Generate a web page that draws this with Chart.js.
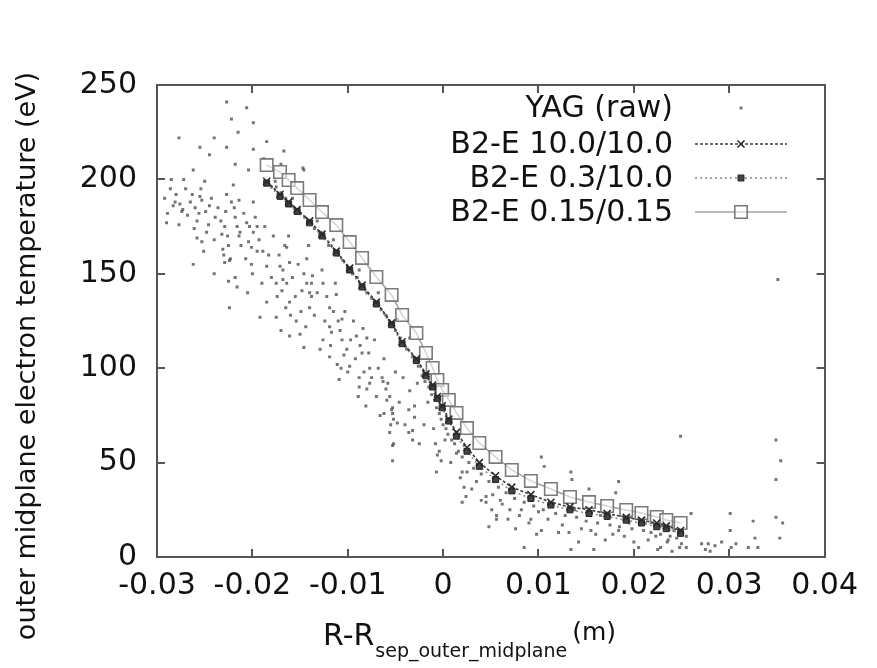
<!DOCTYPE html>
<html><head><meta charset="utf-8">
<script src="https://cdn.jsdelivr.net/npm/chart.js@4.4.1/dist/chart.umd.min.js"></script>
<style>html,body{margin:0;padding:0;background:#fff;}canvas{display:block;}</style>
</head><body>
<canvas id="c" width="877" height="668"></canvas>
<script>
const xTickValues = [-0.03,-0.02,-0.01,0,0.01,0.02,0.03,0.04];
const xTickLabels = ['-0.03','-0.02','-0.01','0','0.01','0.02','0.03','0.04'];
const yTickValues = [0,50,100,150,200,250];
const yTickLabels = ['0','50','100','150','200','250'];
const seriesNames = ['YAG (raw)','B2-E 10.0/10.0','B2-E 0.3/10.0','B2-E 0.15/0.15'];
const yTitle = 'outer midplane electron temperature (eV)';
const xTitleMain = 'R-R', xTitleSub = 'sep_outer_midplane', xTitleUnit = '(m)';

// B2-E radial grid (m)
const b2eR = [-0.0185,-0.0171,-0.0162,-0.0153,-0.0140,-0.0127,-0.0112,-0.0098,-0.0085,-0.0070,-0.0054,-0.0043,-0.0028,-0.0018,-0.0011,-0.0006,-0.0001,0.0006,0.0014,0.0025,0.0038,0.0055,0.0072,0.0092,0.0113,0.0133,0.0153,0.0172,0.0192,0.0208,0.0224,0.0234,0.0249];
const b2e10 = [199,192,188,184,178,171,162,153,144,135,124,114,105,97,91,85,80,73,66,58,50,43,37,33,29,26.5,25,23,21,19.5,18,16.5,14];
const b2e03 = [198,191,187,183,177,170,161,152,143,134,123,113,104,96,90,84,79,72,64,56,48,41,35,31,27.5,25,23,21.5,19.5,18,16,15,12.5];
const b2e015 = [207.6,203.9,199.7,195.4,189.1,182.7,175.8,166.8,158.4,148.3,138.8,128.2,118.6,108.1,100.1,93.8,88.5,83.2,76.3,68.3,60.4,53.0,46.1,40.3,36.0,31.8,29.1,27.0,24.9,23.3,21.2,19.6,18.0];

// YAG raw measurements
const yagR = [-0.0292,-0.0289,-0.0286,-0.0290,-0.0227,-0.0206,-0.0222,-0.0199,-0.0277,-0.0255,-0.0227,-0.0199,-0.0245,-0.0218,-0.0204,-0.0272,-0.0250,-0.0220,-0.0281,-0.0265,-0.0253,-0.0245,-0.0227,-0.0214,-0.0199,-0.0274,-0.0256,-0.0239,-0.0218,-0.0206,-0.0277,-0.0261,-0.0248,-0.0232,-0.0214,-0.0199,-0.0253,-0.0225,-0.0204,-0.0251,-0.0230,-0.0195,-0.0166,-0.0188,-0.0146,-0.0167,-0.0273,-0.0283,-0.0255,-0.0258,-0.0222,-0.0229,-0.0201,-0.0213,-0.0195,-0.0224,-0.0218,-0.0189,-0.0185,-0.0164,-0.0161,-0.0168,-0.0143,-0.0137,-0.0140,-0.0140,-0.0119,-0.0119,-0.0106,-0.0106,-0.0091,-0.0085,-0.0077,-0.0064,-0.0060,-0.0224,-0.0192,-0.0175,-0.0161,-0.0148,-0.0175,-0.0126,-0.0112,-0.0126,-0.0101,-0.0119,-0.0109,-0.0080,-0.0098,-0.0147,
-0.0229,-0.0225,-0.0216,-0.0201,-0.0171,-0.0169,-0.0164,-0.0143,-0.0138,-0.0161,-0.0146,-0.0154,-0.0117,-0.0110,-0.0104,-0.0107,-0.0084,-0.0088,-0.0063,-0.0056,-0.0054,-0.0052,-0.0056,-0.0052,-0.0088,-0.0080,-0.0077,-0.0205,-0.0185,-0.0170,-0.0160,-0.0150,-0.0240,-0.0262,
-0.0053,-0.0053,-0.0036,-0.0032,-0.0025,-0.0048,-0.0004,-0.0002,-0.0007,0.0020,0.0022,0.0020,0.0030,0.0048,0.0056,0.0045,-0.0059,-0.0062,-0.0053,-0.0036,-0.0030,-0.0053,-0.0032,-0.0006,0.0024,0.0045,0.0051,0.0056,0.0076,0.0085,0.0103,0.0106,0.0103,0.0121,0.0132,0.0134,0.0135,0.0134,0.0153,0.0155,0.0158,0.0184,0.0181,0.0184,0.0197,0.0223,0.0228,0.0236,0.0249,0.0250,0.0255,0.0260,0.0271,0.0278,0.0292,0.0301,0.0301,0.0302,0.0307,0.0320,0.0325,0.0327,0.0330,0.0349,0.0349,0.0354,0.0349,0.0356,0.0353,0.0351,0.0280,0.0285,0.0275,
-0.0180,-0.0176,-0.0170,-0.0165,-0.0160,-0.0150,-0.0145,-0.0135,-0.0128,-0.0120,-0.0110,-0.0105,-0.0095,-0.0090,-0.0080,-0.0075,-0.0065,-0.0060,-0.0050,-0.0045,-0.0038,-0.0032,-0.0026,-0.0022,-0.0019,-0.0015,-0.0012,-0.0009,-0.0007,-0.0004,-0.0002,0.0000,0.0003,0.0005,0.0009,0.0012,0.0016,0.0020,0.0027,0.0032,0.0040,0.0048,0.0058,0.0066,0.0075,0.0085,0.0095,0.0105,0.0118,0.0128,0.0140,0.0150,0.0162,0.0175,0.0185,0.0198,0.0210,0.0218,0.0228,0.0238,0.0245,0.0250,0.0242,0.0235,0.0215,
0.0060,0.0070,0.0080,0.0090,0.0100,0.0110,0.0125,0.0145,0.0160,0.0170,0.0190,0.0200,0.0205,0.0225,0.0240,0.0255,
-0.0285,-0.0280,-0.0276,-0.0270,-0.0268,-0.0263,-0.0260,-0.0258,-0.0254,-0.0249,-0.0246,-0.0243,-0.0240,-0.0236,-0.0233,-0.0231,-0.0228,-0.0226,-0.0223,-0.0219,-0.0216,-0.0212,-0.0209,-0.0207,-0.0203,-0.0200,-0.0197,-0.0193,-0.0190,-0.0187,
-0.0183,-0.0180,-0.0178,-0.0174,-0.0172,-0.0168,-0.0165,-0.0162,-0.0158,-0.0155,-0.0152,-0.0149,-0.0146,-0.0144,-0.0141,-0.0138,-0.0135,-0.0132,-0.0129,-0.0127,-0.0124,-0.0122,-0.0118,-0.0115,-0.0113,-0.0111,-0.0108,-0.0103,-0.0100,-0.0097,-0.0094,-0.0092,-0.0089,-0.0087,-0.0083,-0.0081,-0.0078,-0.0075,-0.0072,-0.0070,-0.0068,-0.0066,-0.0062,-0.0058,-0.0055,-0.0050,-0.0046,-0.0042,-0.0040,-0.0035,-0.0030,-0.0027,-0.0020,-0.0016,-0.0010,-0.0008,0.0002,0.0008,0.0014,0.0018,0.0025,0.0035,0.0040,0.0052,0.0062,0.0068,0.0082,0.0092,0.0098,0.0115,0.0138,0.0142,0.0165,0.0178,0.0195,0.0212,0.0232,0.0248,
-0.0175,-0.0158,-0.0132,-0.0115,-0.0088,-0.0068,-0.0048,-0.0035,-0.0262,-0.0240,-0.0215,-0.0185,-0.0170];
const yagTe = [190,182,195,177,241,238,232,230,222,217,217,216,213,208,205,200,199,197,188,188,189,186,192,189,188,183,182,180,180,177,176,174,172,171,170,172,167,165,167,162,160,162,165,211,205,215,184,186,191,169,188,175,164,172,175,157,148,162,154,164,156,147,158,149,140,132,132,122,126,115,117,108,92,95,89,132,127,127,135,141,145,145,139,115,110,106,94,89,101,206,
156,146,143,155,154,141,145,145,138,117,111,125,119,125,107,100,121,90,93,85,78,73,66,60,95,116,100,140,135,120,128,118,150,155,
59,51,66,62,60,71,56,51,45,45,37,29,36,16,22,29,83,76,76,78,74,79,67,54,32,32,25,20,15,5,53,48,14,13,13,45,41,4,36,14,4,40,34,14,21,11,5,9,64,7,11,23,7,7,8,23,14,5,7,5,19,10,5,62,41,51,21,18,10,147,3,6,4,
196,199,193,190,186,182,180,174,172,165,160,157,150,148,140,137,131,128,120,116,110,106,101,96,93,90,86,83,79,76,73,70,68,65,62,60,56,53,50,47,44,40,37,34,31,29,27,25,23,22,21,19,18,17,16,15,14,13,12,11,10,12,14,8,9,
30,25,22,18,24,20,17,15,12,9,11,8,5,4,3,5,
200,192,187,195,181,192,185,178,195,183,176,190,168,185,178,163,183,170,158,185,175,165,182,158,175,150,180,168,145,175,
160,148,170,138,160,152,132,170,148,138,155,130,150,122,165,145,128,140,110,152,125,138,112,130,145,102,120,130,98,115,125,105,85,112,98,80,108,95,115,85,100,75,105,92,70,98,82,95,70,88,80,92,70,82,68,60,62,50,55,42,45,40,30,33,28,20,25,20,12,28,25,8,22,12,18,18,15,5,
196,190,178,168,152,140,126,116,205,222,225,220,208];

const FONT = "'DejaVu Sans', sans-serif";
const xy = (xs, ys) => xs.map((x, i) => ({x: x, y: ys[i]}));

const styles = [
  {pointStyle:'rect', radius:2.1, bg:'rgba(70,70,70,0.75)', bc:'rgba(70,70,70,0)', bw:0, line:null},
  {pointStyle:'crossRot', radius:5, bg:'#333', bc:'#2a2a2a', bw:1.6, line:{color:'#3a3a3a', dash:[3,2], width:1.6}},
  {pointStyle:'rect', radius:4.2, bg:'#444', bc:'#222', bw:1, line:{color:'#888', dash:[2,3], width:1.5}},
  {pointStyle:'rect', radius:8.8, bg:'rgba(255,255,255,0.55)', bc:'#7a7a7a', bw:1.6, line:{color:'#a0a0a0', dash:[], width:1.5}}
];

function mkDataset(i, data, order) {
  const s = styles[i];
  return {
    label: seriesNames[i], data: data, order: order,
    showLine: !!s.line,
    borderColor: s.line ? s.line.color : s.bc,
    borderDash: s.line ? s.line.dash : [],
    borderWidth: s.line ? s.line.width : 0,
    pointStyle: s.pointStyle, pointRadius: s.radius,
    pointBackgroundColor: s.bg, pointBorderColor: s.bc, pointBorderWidth: s.bw,
    pointHoverRadius: s.radius
  };
}

const axisCommon = (pos) => ({
  type: 'linear', position: pos,
  border: {display: true, color: '#555', width: 2},
  grid: {drawOnChartArea: false, drawTicks: true, tickLength: -8, color: '#555', lineWidth: 2}
});

const titlesAndLegend = {
  id: 'titlesAndLegend',
  afterDraw(chart) {
    const ctx = chart.ctx;
    ctx.save();
    ctx.fillStyle = '#111';
    ctx.save();
    ctx.translate(28, 356);
    ctx.rotate(-Math.PI / 2);
    ctx.font = '27px ' + FONT;
    ctx.textAlign = 'center'; ctx.textBaseline = 'middle';
    ctx.fillText(yTitle, 0, 0);
    ctx.restore();
    ctx.textAlign = 'left'; ctx.textBaseline = 'alphabetic';
    ctx.font = '30px ' + FONT;
    let x = 323;
    ctx.fillText(xTitleMain, x, 645);
    x += ctx.measureText(xTitleMain).width;
    ctx.font = '19px ' + FONT;
    ctx.fillText(xTitleSub, x + 1, 657);
    x += ctx.measureText(xTitleSub).width + 6;
    ctx.font = '25px ' + FONT;
    ctx.fillText(xTitleUnit, x, 640);
    const rows = [108, 144, 178, 212];
    ctx.font = '30px ' + FONT;
    ctx.textAlign = 'right'; ctx.textBaseline = 'middle';
    for (let i = 0; i < 4; i++) {
      const s = styles[i];
      ctx.fillStyle = '#111';
      ctx.fillText(seriesNames[i], 673, rows[i] + 1);
      if (s.line) {
        ctx.save();
        ctx.strokeStyle = s.line.color; ctx.lineWidth = s.line.width;
        ctx.setLineDash(s.line.dash);
        ctx.beginPath(); ctx.moveTo(695, rows[i]); ctx.lineTo(787, rows[i]); ctx.stroke();
        ctx.restore();
      }
      ctx.save();
      ctx.fillStyle = s.bg; ctx.strokeStyle = s.bc; ctx.lineWidth = s.bw;
      Chart.helpers.drawPoint(ctx, {pointStyle: s.pointStyle, radius: s.radius, borderWidth: s.bw, rotation: 0}, 741, rows[i]);
      ctx.restore();
    }
    ctx.restore();
  }
};

new Chart(document.getElementById('c'), {
  type: 'scatter',
  data: {
    datasets: [
      mkDataset(1, xy(b2eR, b2e10), 1),
      mkDataset(2, xy(b2eR, b2e03), 2),
      mkDataset(3, xy(b2eR, b2e015), 3),
      mkDataset(0, xy(yagR, yagTe), 4)
    ]
  },
  options: {
    responsive: false, animation: false, devicePixelRatio: 1,
    layout: {padding: 0},
    plugins: {legend: {display: false}, tooltip: {enabled: false}},
    scales: {
      x: Object.assign(axisCommon('bottom'), {
        min: -0.03, max: 0.04,
        afterBuildTicks: (s) => { s.ticks = xTickValues.map(v => ({value: v})); },
        afterFit: (s) => { s.height = 111; },
        ticks: {color: '#111', font: {family: FONT, size: 30}, padding: 19, maxRotation: 0, autoSkip: false,
          callback: (v, i) => xTickLabels[i]}
      }),
      x2: Object.assign(axisCommon('top'), {
        min: -0.03, max: 0.04,
        afterBuildTicks: (s) => { s.ticks = xTickValues.map(v => ({value: v})); },
        afterFit: (s) => { s.height = 85; },
        ticks: {display: false}
      }),
      y: Object.assign(axisCommon('left'), {
        min: 0, max: 250,
        afterBuildTicks: (s) => { s.ticks = yTickValues.map(v => ({value: v})); },
        afterFit: (s) => { s.width = 157; },
        ticks: {color: '#111', font: {family: FONT, size: 30}, padding: 28, autoSkip: false,
          callback: (v, i) => yTickLabels[i]}
      }),
      y2: Object.assign(axisCommon('right'), {
        min: 0, max: 250,
        afterBuildTicks: (s) => { s.ticks = yTickValues.map(v => ({value: v})); },
        afterFit: (s) => { s.width = 50; },
        ticks: {display: false}
      })
    }
  },
  plugins: [titlesAndLegend]
});
</script>
</body></html>
